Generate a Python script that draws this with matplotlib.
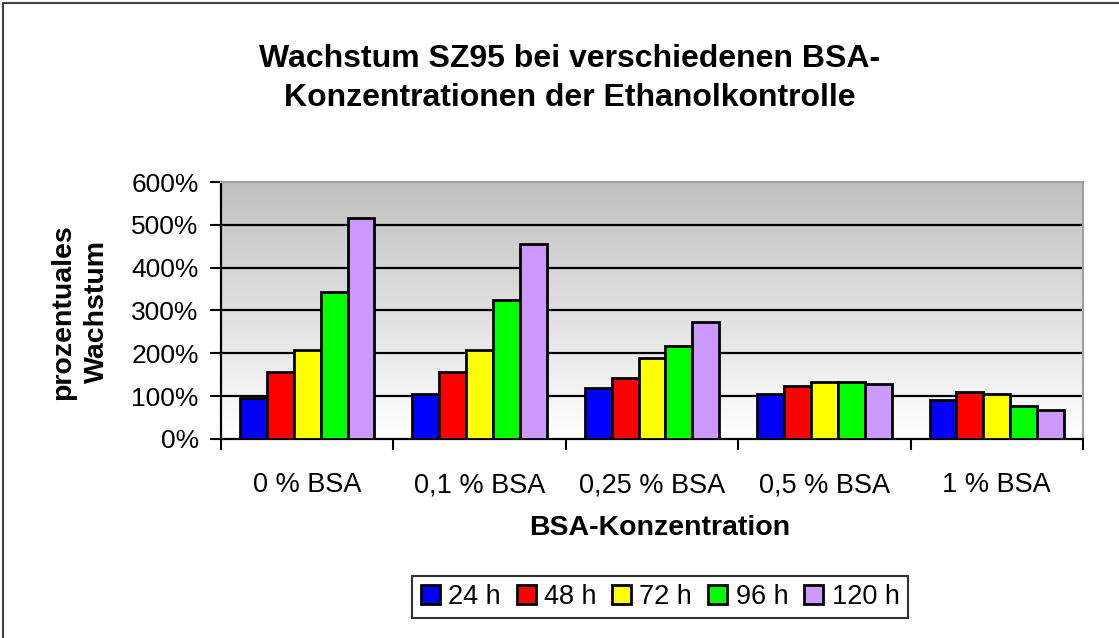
import numpy as np
import matplotlib
matplotlib.use('Agg')
import matplotlib.pyplot as plt
from matplotlib.patches import Rectangle

plt.rcParams['font.family'] = ['Liberation Sans', 'DejaVu Sans']

# Data (percent growth)
categories = ['0 % BSA', '0,1 % BSA', '0,25 % BSA', '0,5 % BSA', '1 % BSA']
series_names = ['24 h', '48 h', '72 h', '96 h', '120 h']
values_24h = [95, 105, 119, 105, 92]
values_48h = [157, 157, 142, 124, 110]
values_72h = [207, 207, 188, 133, 104]
values_96h = [342, 325, 217, 133, 77]
values_120h = [515, 455, 273, 128, 68]
colors = ['#0000ff', '#ff0000', '#ffff00', '#00ff00', '#cc99ff']
y_ticks = [0, 100, 200, 300, 400, 500, 600]

all_values = [values_24h, values_48h, values_72h, values_96h, values_120h]

fig = plt.figure(figsize=(11.19, 6.38), dpi=100)
ax = fig.add_axes([0.1975, 0.312, 0.7703, 0.4027])

# grey gradient background like the old Excel chart
grad = np.linspace(0, 1, 256).reshape(-1, 1)
ax.imshow(grad, extent=[0, 1, 0, 1], transform=ax.transAxes, aspect='auto',
          cmap=matplotlib.colors.LinearSegmentedColormap.from_list('g', ['#ffffff', '#c0c0c0']),
          origin='lower', zorder=0)

x = np.arange(len(categories))
w = 0.156
for i, vals in enumerate(all_values):
    ax.bar(x + (i - 2) * w, vals, width=w, color=colors[i], edgecolor='black',
           linewidth=2, zorder=3, label=series_names[i])

ax.set_xlim(-0.5, len(categories) - 0.5)
ax.set_ylim(0, 600)
ax.set_yticks(y_ticks)
ax.set_yticklabels([f'{v}%' for v in y_ticks], fontsize=19)
for v in y_ticks[1:-1]:
    ax.axhline(v, color='black', linewidth=1.6, zorder=1)

ax.set_xticks(np.arange(-0.5, len(categories), 1.0))
ax.set_xticklabels([])
ax.set_xticks(x, minor=True)
ax.set_xticklabels(categories, minor=True, fontsize=19.5)
ax.tick_params(axis='x', which='minor', length=0, pad=24)
ax.tick_params(axis='x', which='major', length=8, width=1.5, direction='out')
ax.tick_params(axis='y', length=8, width=1.5, direction='out', pad=8)

ax.spines['left'].set_linewidth(1.6)
ax.spines['bottom'].set_linewidth(1.6)
ax.spines['top'].set_color('#a0a0a0')
ax.spines['right'].set_color('#a0a0a0')
ax.spines['top'].set_linewidth(1.5)
ax.spines['right'].set_linewidth(1.5)

fig.text(0.509, 0.877, 'Wachstum SZ95 bei verschiedenen BSA-\nKonzentrationen der Ethanolkontrolle',
         ha='center', va='center', fontsize=23, fontweight='bold', linespacing=1.42)
fig.text(0.0715, 0.511, 'prozentuales\nWachstum', rotation=90, ha='center', va='center',
         fontsize=20.5, fontweight='bold', linespacing=1.35)
fig.text(0.5895, 0.173, 'BSA-Konzentration', ha='center', va='center',
         fontsize=20.5, fontweight='bold')

leg = fig.legend(loc='center', bbox_to_anchor=(0.5898, 0.064), ncol=5, fontsize=19.5,
                 frameon=True, fancybox=False, edgecolor='black', handlelength=0.7,
                 handleheight=0.7, handletextpad=0.3, columnspacing=0.6,
                 borderpad=0.3, borderaxespad=0)
leg.get_frame().set_linewidth(1.5)

# outer chart frame (cut off at right and bottom in the reference)
fig.patches.append(Rectangle((3 / 1119, -0.1), 1.2, 1 - 3 / 638 + 0.1,
                             transform=fig.transFigure, fill=False,
                             edgecolor='#404040', linewidth=1.5))

fig.savefig('out.png', dpi=100)
